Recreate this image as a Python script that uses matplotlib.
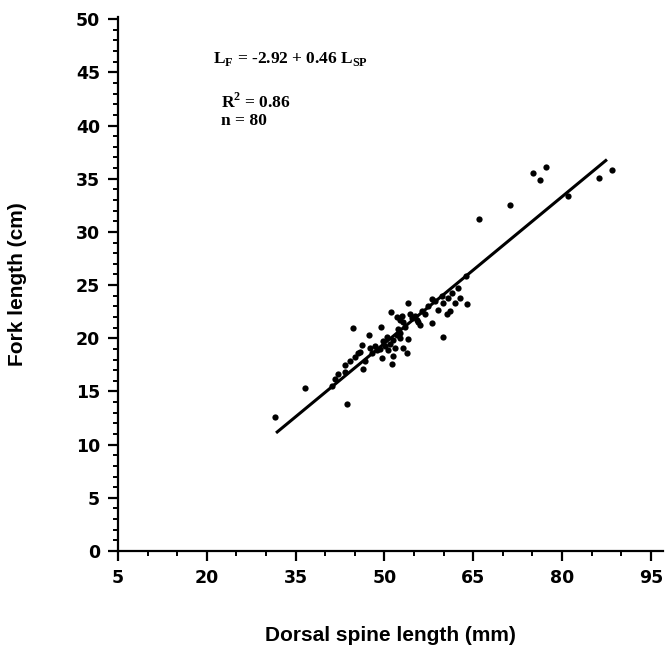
import matplotlib
matplotlib.use("Agg")
import matplotlib.pyplot as plt
from matplotlib.ticker import MultipleLocator

# Data (dorsal spine length mm, fork length cm)
spine_mm = [31.5, 36.6, 43.7, 41.1, 42.2, 43.3, 41.7, 43.3, 44.7, 45.5,
            46.4, 46.7, 47.4, 47.9, 48.7, 49.3, 49.4, 49.6, 50.4, 51.1,
            51.3, 51.4, 51.4, 51.8, 52.1, 52.1, 52.6, 52.6, 52.6, 53.0,
            53.1, 53.8, 54.0, 54.0, 54.3, 53.1, 55.5, 55.7, 56.0, 56.9,
            58.0, 58.0, 59.0, 59.9, 59.9, 60.6, 61.1, 60.7, 61.9, 62.8,
            64.0, 63.8, 66.0, 71.2, 75.1, 76.3, 77.3, 81.0, 86.2, 88.4,
            50.1, 50.6, 50.9, 49.8, 48.4, 47.6, 45.9, 45.0, 44.2, 52.3,
            53.5, 54.7, 55.2, 56.3, 57.4, 58.5, 59.7, 61.4, 62.4, 46.2]
fork_cm = [12.6, 15.3, 13.8, 15.5, 16.6, 16.8, 16.2, 17.5, 21.0, 18.6,
           17.1, 17.9, 20.3, 18.6, 18.9, 19.0, 21.1, 18.1, 20.1, 22.5,
           17.6, 18.3, 19.8, 19.1, 20.3, 22.0, 21.7, 20.5, 20.0, 22.1,
           19.1, 18.6, 19.9, 23.3, 22.3, 21.5, 21.7, 21.5, 21.2, 22.3,
           21.4, 23.7, 22.7, 23.3, 20.1, 22.3, 22.6, 23.8, 23.3, 23.8,
           23.2, 25.9, 31.2, 32.5, 35.5, 34.9, 36.1, 33.4, 35.1, 35.8,
           19.3, 18.9, 19.5, 19.7, 19.3, 19.1, 18.7, 18.2, 17.9, 20.9,
           21.1, 21.9, 22.1, 22.6, 23.0, 23.5, 24.0, 24.3, 24.7, 19.4]

# Regression line as drawn (end points)
line_x = [31.7, 87.6]
line_y = [11.1, 36.8]

x_ticks = [5, 20, 35, 50, 65, 80, 95]
y_ticks = [0, 5, 10, 15, 20, 25, 30, 35, 40, 45, 50]

eq_text = r"L$_{\mathregular{F}}$ = -2.92 + 0.46 L$_{\mathregular{SP}}$"
r2_text = r"R$^{\mathregular{2}}$ = 0.86"
n_text = "n = 80"

fig = plt.figure(figsize=(6.67, 6.52), dpi=100)
ax = fig.add_axes([0.1769, 0.1549, 0.8165, 0.819])

ax.plot(line_x, line_y, color="black", lw=2.2, solid_capstyle="butt", zorder=2)
ax.plot(spine_mm, fork_cm, "o", color="black", ms=4.5, mew=0, zorder=3)

ax.set_xlim(5, 97)
ax.set_ylim(0, 50.2)
ax.set_xticks(x_ticks)
ax.set_yticks(y_ticks)
ax.xaxis.set_minor_locator(MultipleLocator(5))
ax.yaxis.set_minor_locator(MultipleLocator(1))

for s in ["top", "right"]:
    ax.spines[s].set_visible(False)
for s in ["left", "bottom"]:
    ax.spines[s].set_linewidth(1.6)

ax.tick_params(axis="both", which="major", direction="out", length=7, width=1.6,
               labelsize=12.5, pad=6)
ax.tick_params(axis="both", which="minor", direction="out", length=3.5, width=1.4)
for lab in ax.get_xticklabels() + ax.get_yticklabels():
    lab.set_fontweight("bold")
    lab.set_family("DejaVu Sans")

ax.set_xlabel("Dorsal spine length (mm)", fontsize=15, fontweight="bold",
              family="Liberation Sans", labelpad=28)
ax.set_ylabel("Fork length (cm)", fontsize=15, fontweight="bold",
              family="Liberation Sans", labelpad=35)

ax.text(0.174, 0.921, eq_text, transform=ax.transAxes, fontsize=12.5,
        fontweight="bold", family="Liberation Serif", va="center", ha="left")
ax.text(0.19, 0.841, r2_text, transform=ax.transAxes, fontsize=12.5,
        fontweight="bold", family="Liberation Serif", va="center", ha="left")
ax.text(0.19, 0.805, n_text, transform=ax.transAxes, fontsize=12.5,
        fontweight="bold", family="Liberation Serif", va="center", ha="left")

fig.savefig("out.png", dpi=100)
